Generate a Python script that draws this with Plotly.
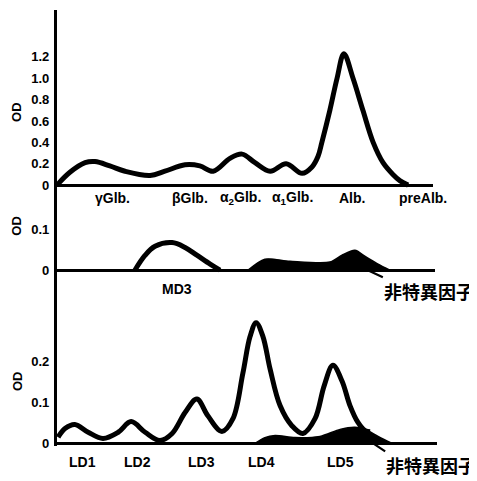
import plotly.graph_objects as go

# ---------------- data ----------------
# Panel 1: serum protein electrophoresis (mobility in arbitrary units, OD)
p1_x = [0, 3.4, 7.4, 10.0, 13.9, 17.9, 24.5, 28.4, 33.7, 37.6, 41.1, 45.5, 48.7, 52.1, 56.1,
        60.3, 64.5, 67.1, 68.7, 69.7, 71.8, 73.7, 75.5, 77.9, 80.5, 83.2, 85.8, 88.4, 90.3, 92.4]
p1_od = [0, 0.12, 0.21, 0.22, 0.18, 0.13, 0.09, 0.13, 0.19, 0.18, 0.13, 0.25, 0.29, 0.21, 0.13,
         0.20, 0.11, 0.17, 0.27, 0.40, 0.70, 1.00, 1.23, 1.00, 0.70, 0.40, 0.21, 0.10, 0.04, 0.0]
p1_labels = ["γGlb.", "βGlb.", "α<sub>2</sub>Glb.", "α<sub>1</sub>Glb.", "Alb.", "preAlb."]
p1_label_x = [14.7, 35.0, 48.4, 62.1, 77.6, 96.3]
p1_ticks = [0, 0.2, 0.4, 0.6, 0.8, 1.0, 1.2]
p1_ticktext = ["0", "0.2", "0.4", "0.6", "0.8", "1.0", "1.2"]

# Panel 2: MD3 and non-specific factor
p2_md_x = [20.5, 23.2, 25.8, 30.3, 33.7, 36.8, 40.3, 42.9]
p2_md_od = [0, 0.037, 0.059, 0.068, 0.056, 0.037, 0.015, 0]
p2_ns_x = [50.3, 54.7, 61.3, 71.8, 75.0, 78.4, 81.1, 84.5, 87.6]
p2_ns_od = [0, 0.027, 0.022, 0.020, 0.037, 0.049, 0.034, 0.015, 0]
p2_labels = ["MD3"]
p2_label_x = [31.6]
p2_ticks = [0, 0.1]
p2_ticktext = ["0", "0.1"]

# Panel 3: LD isoenzymes and non-specific factor
p3_x = [0.3, 2.1, 4.7, 8.2, 12.1, 16.1, 19.5, 23.2, 27.1, 30.3, 33.7, 36.8, 39.7, 43.4, 46.3,
        48.9, 50.8, 52.4, 54.2, 56.1, 58.7, 61.8, 64.7, 67.9, 70.3, 72.6, 75.0, 77.1, 79.2, 81.1, 82.4]
p3_od = [0.015, 0.036, 0.046, 0.027, 0.012, 0.027, 0.053, 0.027, 0.007, 0.024, 0.075, 0.108, 0.067,
         0.029, 0.060, 0.170, 0.260, 0.294, 0.260, 0.180, 0.092, 0.043, 0.024, 0.060, 0.140, 0.190,
         0.152, 0.092, 0.051, 0.031, 0.028]
p3_ns_x = [52.1, 54.7, 57.4, 62.6, 69.2, 74.5, 78.4, 81.1, 84.5, 88.2]
p3_ns_od = [0, 0.014, 0.019, 0.014, 0.017, 0.034, 0.039, 0.034, 0.017, 0]
p3_labels = ["LD1", "LD2", "LD3", "LD4", "LD5"]
p3_label_x = [6.6, 21.1, 37.9, 53.7, 74.5]
p3_ticks = [0, 0.1, 0.2]
p3_ticktext = ["0", "0.1", "0.2"]

ns_label = "非特異因子"
ns_x = [81.8, 83.2]   # where the leader lines touch the baseline (panels 2, 3)
ylabel = "OD"

# ---------------- figure ----------------
PAGE_OFF = 8              # default body margin of the html page
W, H = 477 - PAGE_OFF, 481 - PAGE_OFF
LW = 5
AXW = 3.2
FONT = "Liberation Sans"
CJK = "Noto Sans CJK JP"

fig = go.Figure()

def curve(x, y, xa, ya):
    fig.add_trace(go.Scatter(x=x, y=y, xaxis=xa, yaxis=ya, mode="lines",
                             line=dict(color="black", width=LW, shape="spline", smoothing=1.0),
                             hoverinfo="skip", showlegend=False))

def filled(x, y, xa, ya):
    fig.add_trace(go.Scatter(x=x, y=y, xaxis=xa, yaxis=ya, mode="lines", fill="tozeroy",
                             fillcolor="black",
                             line=dict(color="black", width=1.5, shape="spline", smoothing=0.8),
                             hoverinfo="skip", showlegend=False))

curve(p1_x, p1_od, "x", "y")
curve(p2_md_x, p2_md_od, "x2", "y2")
filled(p2_ns_x, p2_ns_od, "x2", "y2")
filled(p3_ns_x, p3_ns_od, "x3", "y3")
curve(p3_x, p3_od, "x3", "y3")

def fy(p):   # page pixel (from top) -> paper fraction
    return 1 - (p - PAGE_OFF) / H

def fx(p):   # page pixel (from left) -> paper fraction
    return (p - PAGE_OFF) / W

x0 = fx(57)
xax = dict(visible=False, showgrid=False, zeroline=False)
fig.update_layout(
    width=W, height=H, margin=dict(l=0, r=0, t=0, b=0),
    paper_bgcolor="white", plot_bgcolor="white",
    xaxis=dict(domain=[x0, fx(433)], range=[0, (433 - 57) / 3.8], anchor="y", **xax),
    xaxis2=dict(domain=[x0, fx(435)], range=[0, (435 - 57) / 3.8], anchor="y2", **xax),
    xaxis3=dict(domain=[x0, fx(437)], range=[0, (437 - 57) / 3.8], anchor="y3", **xax),
)

ytick_font = dict(family=FONT, size=13, color="black", weight="bold")
yax = dict(showgrid=False, showline=True, linecolor="black", linewidth=AXW,
           zeroline=True, zerolinecolor="black", zerolinewidth=AXW, ticks="",
           tickfont=ytick_font, tickmode="array", ticklabelstandoff=2)
fig.update_layout(
    yaxis=dict(domain=[fy(205), fy(10)], range=[(187 - 205) / 108, (187 - 10) / 108], anchor="x",
               tickvals=p1_ticks, ticktext=p1_ticktext, **yax),
    yaxis2=dict(domain=[fy(310), fy(205)], range=[(273 - 310) / 410, (273 - 205) / 410], anchor="x2",
                tickvals=p2_ticks, ticktext=p2_ticktext, **yax),
    yaxis3=dict(domain=[fy(451), fy(310)], range=[(448 - 451) / 415, (448 - 310) / 415], anchor="x3",
                tickvals=p3_ticks, ticktext=p3_ticktext, **yax),
)

lab_font = dict(family=FONT, size=14, color="black", weight="bold")
ann = []
for t, x in zip(p1_labels, p1_label_x):
    ann.append(dict(x=x, y=fy(200), xref="x", yref="paper", text=t, showarrow=False,
                    font=lab_font, xanchor="center", yanchor="middle"))
for t, x in zip(p2_labels, p2_label_x):
    ann.append(dict(x=x, y=fy(292), xref="x2", yref="paper", text=t, showarrow=False,
                    font=lab_font, xanchor="center", yanchor="middle"))
for t, x in zip(p3_labels, p3_label_x):
    ann.append(dict(x=x, y=fy(467), xref="x3", yref="paper", text=t, showarrow=False,
                    font=lab_font, xanchor="center", yanchor="middle"))

# non-specific factor labels with leader lines
cjk_font = dict(family=CJK, size=18, color="black", weight="bold")
for xa, ya, x, ax, ay in (("x2", "y2", ns_x[0], 15, 7), ("x3", "y3", ns_x[1], 12, 8)):
    ann.append(dict(x=x, y=0, xref=xa, yref=ya, text=ns_label, showarrow=True,
                    arrowhead=0, arrowwidth=2.2, arrowcolor="black", ax=ax, ay=ay,
                    xanchor="left", yanchor="top", font=cjk_font, borderpad=0))

# OD axis titles
for yc in (113, 228, 385):
    ann.append(dict(x=fx(17), y=fy(yc), xref="paper", yref="paper", text=ylabel,
                    showarrow=False, textangle=-90, xanchor="center", yanchor="middle",
                    font=dict(family=FONT, size=13, color="black", weight="bold")))
fig.update_layout(annotations=ann)

fig.write_html("out.html")
